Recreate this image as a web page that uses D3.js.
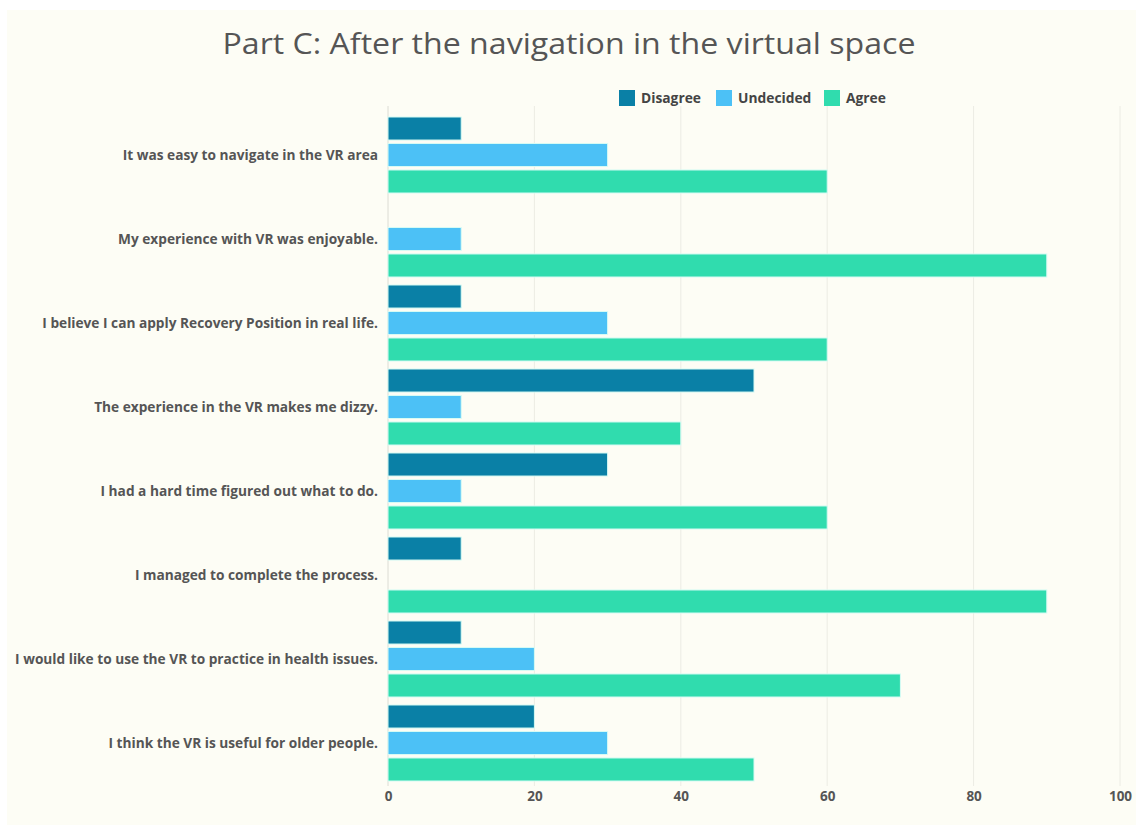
<!DOCTYPE html>
<html>
<head>
<meta charset="utf-8">
<script src="https://cdn.jsdelivr.net/npm/d3@7"></script>
<style>
  html, body { margin: 0; padding: 0; background: #ffffff; }
  svg { display: block; }
</style>
</head>
<body>
<svg id="chart" width="1136" height="825"></svg>
<script>
// Survey statements (top to bottom)
const categories = [
  "It was easy to navigate in the VR area",
  "My experience with VR was enjoyable.",
  "I believe I can apply Recovery Position in real life.",
  "The experience in the VR makes me dizzy.",
  "I had a hard time figured out what to do.",
  "I managed to complete the process.",
  "I would like to use the VR to practice in health issues.",
  "I think the VR is useful for older people."
];
const seriesNames = ["Disagree", "Undecided", "Agree"];
const disagree  = [10, 0, 10, 50, 30, 10, 10, 20];
const undecided = [30, 10, 30, 10, 10, 0, 20, 30];
const agree     = [60, 90, 60, 40, 60, 90, 70, 50];
const xTicks = [0, 20, 40, 60, 80, 100];
const titleText = "Part C: After the navigation in the virtual space";

const seriesValues = [disagree, undecided, agree];
const colors = ["#0a80a6", "#4cc1f6", "#30dcae"];

const svg = d3.select("#chart");

// cream panel
svg.append("rect")
  .attr("x", 7).attr("y", 10)
  .attr("width", 1136 - 7).attr("height", 825 - 10)
  .attr("fill", "#fdfdf5");

const x = d3.scaleLinear().domain([0, 100]).range([388, 1120]);
const y = d3.scaleBand().domain(categories).range([113, 785])
  .paddingInner(0.095).paddingOuter(0.0475);
const ySub = d3.scaleBand().domain(seriesNames).range([0, y.bandwidth()])
  .paddingInner(0.13).paddingOuter(0);

// gridlines
svg.append("g").selectAll("line")
  .data(xTicks)
  .join("line")
  .attr("x1", d => x(d)).attr("x2", d => x(d))
  .attr("y1", 106).attr("y2", 786)
  .attr("stroke", d => d === 0 ? "#dcdcd4" : "#ecece4")
  .attr("stroke-width", 1);

// bars
const rows = categories.map((c, i) => ({
  cat: c,
  vals: seriesNames.map((s, j) => ({ s, j, v: seriesValues[j][i] }))
}));

const groups = svg.append("g").selectAll("g")
  .data(rows)
  .join("g")
  .attr("transform", d => `translate(0,${y(d.cat)})`);

groups.selectAll("rect")
  .data(d => d.vals.filter(v => v.v > 0))
  .join("rect")
  .attr("x", x(0))
  .attr("y", d => ySub(d.s))
  .attr("width", d => x(d.v) - x(0))
  .attr("height", ySub.bandwidth())
  .attr("fill", d => colors[d.j])
  .attr("stroke", "#d8fbf4")
  .attr("stroke-width", 1);

// category labels
svg.append("g").selectAll("text")
  .data(categories)
  .join("text")
  .attr("x", 378)
  .attr("y", d => y(d) + y.bandwidth() / 2)
  .attr("dy", "0.35em")
  .attr("text-anchor", "end")
  .attr("font-family", "'Open Sans', sans-serif")
  .attr("font-weight", 700)
  .attr("font-size", "13.7px")
  .attr("fill", "#555555")
  .text(d => d);

// x axis tick labels
const xAxis = d3.axisBottom(x).tickValues(xTicks).tickSize(0).tickPadding(0);
const axisG = svg.append("g").attr("transform", "translate(0,791)").call(xAxis);
axisG.select(".domain").remove();
axisG.selectAll("text")
  .attr("font-family", "'Open Sans', sans-serif")
  .attr("font-weight", 700)
  .attr("font-size", "13.5px")
  .attr("fill", "#555555");

// title
svg.append("text")
  .attr("x", 569).attr("y", 54)
  .attr("text-anchor", "middle")
  .attr("font-family", "'Open Sans', sans-serif")
  .attr("font-size", "30px")
  .attr("textLength", 693)
  .attr("lengthAdjust", "spacingAndGlyphs")
  .attr("fill", "#555555")
  .text(titleText);

// legend
const legendX = [619, 716, 824];
const legend = svg.append("g").selectAll("g")
  .data(seriesNames)
  .join("g")
  .attr("transform", (d, i) => `translate(${legendX[i]},90)`);
legend.append("rect")
  .attr("width", 16).attr("height", 16)
  .attr("fill", (d, i) => colors[i]);
legend.append("text")
  .attr("x", 22).attr("y", 8)
  .attr("dy", "0.35em")
  .attr("font-family", "'Open Sans', sans-serif")
  .attr("font-weight", 700)
  .attr("font-size", "13.8px")
  .attr("fill", "#444444")
  .text(d => d);
</script>
</body>
</html>
